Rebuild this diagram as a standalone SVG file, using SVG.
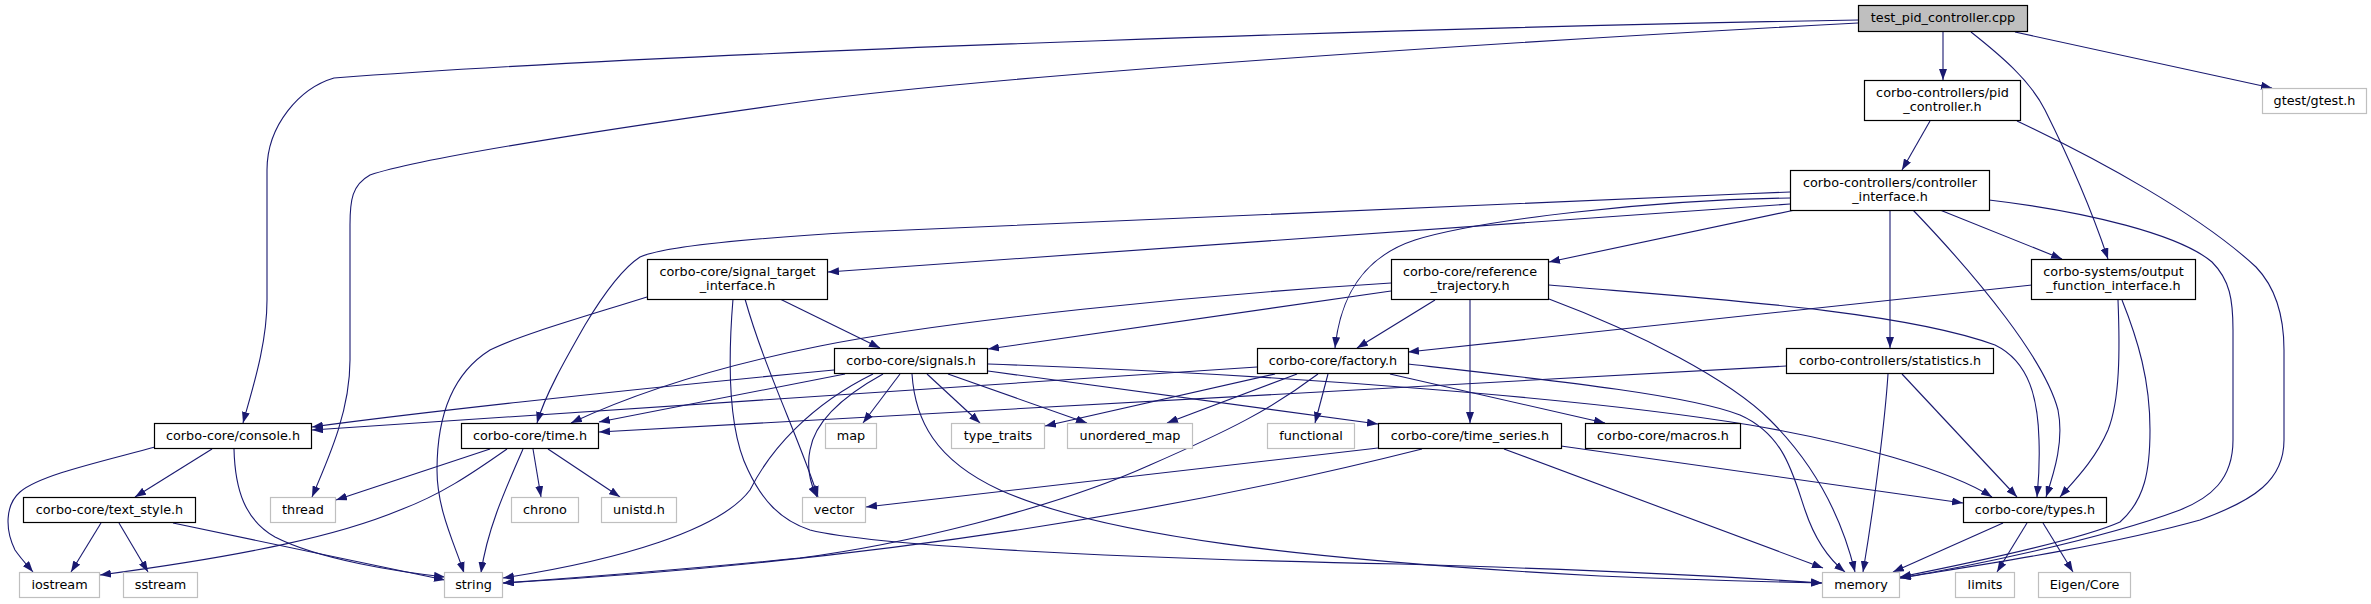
<svg xmlns="http://www.w3.org/2000/svg" width="2371" height="604" viewBox="0 0 2371 604">
<style>
rect{fill:#fff;stroke:#000;stroke-width:1.2}
.s rect{stroke:#bfbfbf}
.r rect{fill:#bfbfbf}
text{font-family:"DejaVu Sans","Liberation Sans",sans-serif;font-size:12.8px;text-anchor:middle;fill:#000}
#edges path{fill:none;stroke:#191970;stroke-width:1.1;marker-end:url(#a)}
</style>
<defs>
<marker id="a" viewBox="0 0 11 8" refX="11" refY="4" markerWidth="11" markerHeight="8" markerUnits="userSpaceOnUse" orient="auto"><path d="M0,0 L11,4 L0,8z" fill="#191970"/></marker>
</defs>
<rect x="0" y="0" width="2371" height="604" style="fill:#fff;stroke:none"/>
<g id="edges">
<path d="M1858,20 C1500,26 700,50 334,78 C300,88 267,125 267,170 L267,300 C267,345 252,390 243,423"/>
<path d="M1858,23 C1500,42 1000,75 800,102 C600,130 420,158 370,175 C352,185 350,200 350,225 L350,360 C350,410 330,455 312,497"/>
<path d="M1943,32 L1943,80"/>
<path d="M1971,32 C2000,55 2030,80 2045,110 C2075,170 2095,220 2108,259"/>
<path d="M2015,32 L2272,88"/>
<path d="M1930,121 L1902,170"/>
<path d="M2017,121 C2100,160 2200,215 2256,267 C2278,290 2284,320 2284,350 L2284,440 C2284,480 2255,500 2200,520 C2100,548 1960,568 1900,578"/>
<path d="M1790,204 L828,272"/>
<path d="M1795,210 L1549,262"/>
<path d="M1790,192 C1400,208 1000,226 860,232 C720,240 660,248 640,257 C620,270 600,300 585,325 C565,360 545,395 537,423"/>
<path d="M1790,198 C1650,200 1480,220 1415,240 C1360,258 1340,300 1335,348"/>
<path d="M1940,210 L2062,259"/>
<path d="M1890,210 L1890,348"/>
<path d="M1913,210 C1980,280 2045,360 2058,410 C2064,440 2055,470 2046,497"/>
<path d="M1989,200 C2090,212 2180,235 2212,262 C2230,280 2233,300 2233,330 L2233,440 C2233,480 2210,498 2180,510 C2100,540 1960,568 1900,578"/>
<path d="M780,299 L880,348"/>
<path d="M647,297 C580,318 520,335 490,350 C450,375 437,420 437,470 C437,510 455,545 464,573"/>
<path d="M745,299 C765,370 800,440 818,497"/>
<path d="M733,299 C728,360 728,430 748,470 C762,500 780,520 810,530 C870,545 1100,558 1400,564 C1600,570 1750,578 1822,583"/>
<path d="M1391,291 L988,349"/>
<path d="M1391,283 C1200,295 950,320 820,346 C700,370 620,400 571,423"/>
<path d="M1435,300 L1357,348"/>
<path d="M1470,300 L1470,423"/>
<path d="M1549,285 C1700,298 1900,310 1995,345 C2030,362 2038,400 2039,440 C2040,470 2038,485 2037,497"/>
<path d="M1549,299 C1640,333 1730,380 1770,420 C1810,460 1840,510 1855,572"/>
<path d="M2032,285 L1408,352"/>
<path d="M2118,300 C2120,350 2120,400 2108,430 C2095,460 2075,480 2060,497"/>
<path d="M2122,300 C2138,340 2150,380 2150,430 C2150,470 2145,500 2120,522 C2080,540 1960,565 1900,577"/>
<path d="M212,449 L135,497"/>
<path d="M155,447 C100,462 40,475 20,492 C5,505 5,530 15,550 C22,560 28,566 33,572"/>
<path d="M234,449 C235,490 245,520 275,537 C320,560 400,572 445,577"/>
<path d="M101,523 L71,572"/>
<path d="M119,523 L148,572"/>
<path d="M173,523 L445,580"/>
<path d="M490,449 L336,500"/>
<path d="M507,449 C470,475 440,495 400,510 C340,535 250,555 100,575"/>
<path d="M523,449 C505,490 487,530 481,573"/>
<path d="M533,449 L541,497"/>
<path d="M548,449 L620,497"/>
<path d="M834,370 C600,392 400,415 312,427"/>
<path d="M845,374 L599,422"/>
<path d="M900,374 L863,423"/>
<path d="M927,374 L980,423"/>
<path d="M948,374 L1087,423"/>
<path d="M883,374 C845,395 815,420 810,450 C806,470 812,487 817,497"/>
<path d="M873,374 C810,405 770,450 750,490 C720,530 620,560 503,578"/>
<path d="M912,374 C915,420 935,460 1000,490 C1100,535 1300,560 1600,576 C1700,580 1780,582 1822,583"/>
<path d="M988,371 L1378,424"/>
<path d="M988,364 C1300,375 1600,400 1750,425 C1850,442 1950,470 1992,497"/>
<path d="M1257,367 L312,430"/>
<path d="M1275,374 L1045,426"/>
<path d="M1297,374 L1167,423"/>
<path d="M1328,374 L1315,423"/>
<path d="M1318,374 C1270,410 1230,430 1150,465 C1050,510 900,545 800,558 C700,568 600,576 503,583"/>
<path d="M1390,374 L1605,423"/>
<path d="M1408,364 C1550,380 1690,395 1740,415 C1785,435 1793,475 1805,510 C1815,540 1830,560 1845,572"/>
<path d="M1378,448 L866,507"/>
<path d="M1422,449 C1200,505 900,560 503,583"/>
<path d="M1561,446 L1963,503"/>
<path d="M1504,449 L1823,568"/>
<path d="M1786,366 L599,432"/>
<path d="M1902,374 L2017,497"/>
<path d="M1888,374 C1885,420 1875,500 1863,572"/>
<path d="M2003,523 L1893,572"/>
<path d="M2027,523 L1997,572"/>
<path d="M2043,523 L2073,572"/>
</g>
<g id="n_test" class="r"><rect x="1858.5" y="5.5" width="169" height="26"/><text x="1943" y="22">test_pid_controller.cpp</text></g>
<g id="n_pid"><rect x="1864.5" y="80.5" width="156" height="40"/><text x="1942.5" y="96.5">corbo-controllers/pid</text><text x="1942.5" y="111">_controller.h</text></g>
<g id="n_gtest" class="s"><rect x="2262.5" y="88.5" width="104" height="25"/><text x="2314.5" y="105">gtest/gtest.h</text></g>
<g id="n_ctrl"><rect x="1790.5" y="170.5" width="199" height="40"/><text x="1890" y="186.5">corbo-controllers/controller</text><text x="1890" y="201">_interface.h</text></g>
<g id="n_outf"><rect x="2031.5" y="259.5" width="164" height="40"/><text x="2113.5" y="275.5">corbo-systems/output</text><text x="2113.5" y="290">_function_interface.h</text></g>
<g id="n_sigt"><rect x="647.5" y="259.5" width="180" height="40"/><text x="737.5" y="275.5">corbo-core/signal_target</text><text x="737.5" y="290">_interface.h</text></g>
<g id="n_ref"><rect x="1391.5" y="259.5" width="157" height="40"/><text x="1470" y="275.5">corbo-core/reference</text><text x="1470" y="290">_trajectory.h</text></g>
<g id="n_console"><rect x="154.5" y="423.5" width="157" height="25"/><text x="233" y="440">corbo-core/console.h</text></g>
<g id="n_time"><rect x="461.5" y="423.5" width="137" height="25"/><text x="530" y="440">corbo-core/time.h</text></g>
<g id="n_textstyle"><rect x="23.5" y="497.5" width="172" height="25"/><text x="109.5" y="514">corbo-core/text_style.h</text></g>
<g id="n_iostream" class="s"><rect x="19.5" y="572.5" width="80" height="25"/><text x="59.5" y="589">iostream</text></g>
<g id="n_sstream" class="s"><rect x="123.5" y="572.5" width="74" height="25"/><text x="160.5" y="589">sstream</text></g>
<g id="n_string" class="s"><rect x="444.5" y="572.5" width="58" height="25"/><text x="473.5" y="589">string</text></g>
<g id="n_thread" class="s"><rect x="270.5" y="497.5" width="65" height="25"/><text x="303" y="514">thread</text></g>
<g id="n_chrono" class="s"><rect x="511.5" y="497.5" width="67" height="25"/><text x="545" y="514">chrono</text></g>
<g id="n_unistd" class="s"><rect x="601.5" y="497.5" width="75" height="25"/><text x="639" y="514">unistd.h</text></g>
<g id="n_signals"><rect x="834.5" y="348.5" width="153" height="25"/><text x="911" y="365">corbo-core/signals.h</text></g>
<g id="n_factory"><rect x="1257.5" y="348.5" width="151" height="25"/><text x="1333" y="365">corbo-core/factory.h</text></g>
<g id="n_map" class="s"><rect x="825.5" y="423.5" width="51" height="25"/><text x="851" y="440">map</text></g>
<g id="n_typetraits" class="s"><rect x="951.5" y="423.5" width="93" height="25"/><text x="998" y="440">type_traits</text></g>
<g id="n_umap" class="s"><rect x="1067.5" y="423.5" width="125" height="25"/><text x="1130" y="440">unordered_map</text></g>
<g id="n_functional" class="s"><rect x="1267.5" y="423.5" width="87" height="25"/><text x="1311" y="440">functional</text></g>
<g id="n_timeseries"><rect x="1378.5" y="423.5" width="183" height="25"/><text x="1470" y="440">corbo-core/time_series.h</text></g>
<g id="n_macros"><rect x="1585.5" y="423.5" width="155" height="25"/><text x="1663" y="440">corbo-core/macros.h</text></g>
<g id="n_vector" class="s"><rect x="802.5" y="497.5" width="63" height="25"/><text x="834" y="514">vector</text></g>
<g id="n_stats"><rect x="1786.5" y="348.5" width="207" height="25"/><text x="1890" y="365">corbo-controllers/statistics.h</text></g>
<g id="n_types"><rect x="1963.5" y="497.5" width="143" height="25"/><text x="2035" y="514">corbo-core/types.h</text></g>
<g id="n_memory" class="s"><rect x="1822.5" y="572.5" width="77" height="25"/><text x="1861" y="589">memory</text></g>
<g id="n_limits" class="s"><rect x="1955.5" y="572.5" width="59" height="25"/><text x="1985" y="589">limits</text></g>
<g id="n_eigen" class="s"><rect x="2038.5" y="572.5" width="92" height="25"/><text x="2084.5" y="589">Eigen/Core</text></g>
</svg>
